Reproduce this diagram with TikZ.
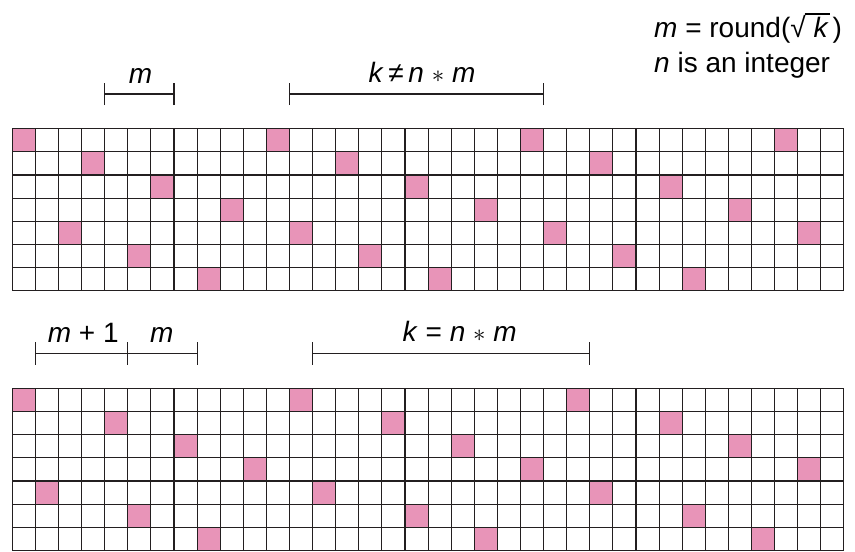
\documentclass[tikz,border=0pt]{standalone}
\usepackage{fontspec}
\setmainfont{Liberation Sans}
\definecolor{pinkc}{RGB}{232,148,184}
\definecolor{linec}{RGB}{35,31,32}
\newcommand{\myroot}[1]{√\kern-1.2pt\vbox{\hrule height 1.1pt\kern 2.5pt\hbox{\kern9pt#1\kern1pt}}}
\begin{document}
\begin{tikzpicture}[x=1pt,y=-1pt,
  gridline/.style={draw=linec,line width=1.1pt},
  pinkcell/.style={fill=pinkc},
  bracket/.style={draw=linec,line width=1.1pt},
  lbl/.style={inner sep=0pt,font=\fontsize{28}{32}\selectfont}]
\useasboundingbox (0,0) rectangle (855,552);
\def\s{23.1}
% ---------- top grid ----------
\def\xo{12.3}\def\yt{128.8}\def\yb{388.6}
\foreach \c/\r in {0/0,11/0,22/0,33/0, 3/1,14/1,25/1, 6/2,17/2,28/2, 9/3,20/3,31/3,
                   2/4,12/4,23/4,34/4, 5/5,15/5,26/5, 8/6,18/6,29/6}
  \fill[pinkcell] ({\xo+\c*\s},{\yt+\r*\s}) rectangle ++(\s,\s);
\foreach \i in {0,...,36}
  \draw[gridline] ({\xo+\i*\s},\yt) -- ++(0,{7*\s});
\foreach \j in {0,...,7}
  \draw[gridline] (\xo,{\yt+\j*\s}) -- ++({36*\s},0);
% ---------- bottom grid ----------
\foreach \c/\r in {0/0,12/0,24/0, 4/1,16/1,28/1, 7/2,19/2,31/2, 10/3,22/3,34/3,
                   1/4,13/4,25/4, 5/5,17/5,29/5, 8/6,20/6,32/6}
  \fill[pinkcell] ({\xo+\c*\s},{\yb+\r*\s}) rectangle ++(\s,\s);
\foreach \i in {0,...,36}
  \draw[gridline] ({\xo+\i*\s},\yb) -- ++(0,{7*\s});
\foreach \j in {0,...,7}
  \draw[gridline] (\xo,{\yb+\j*\s}) -- ++({36*\s},0);
% ---------- top brackets ----------
\coordinate (tm1) at ({\xo+4*\s},94);
\coordinate (tm2) at ({\xo+7*\s},94);
\coordinate (tk1) at ({\xo+12*\s},94);
\coordinate (tk2) at ({\xo+23*\s},94);
\draw[bracket] (tm1) -- (tm2);
\draw[bracket] (tk1) -- (tk2);
\foreach \p in {tm1,tm2,tk1,tk2}
  \draw[bracket] ([yshift=-11pt]\p) -- ([yshift=11pt]\p);
% ---------- bottom brackets ----------
\coordinate (bm1) at ({\xo+1*\s},353.3);
\coordinate (bm2) at ({\xo+5*\s},353.3);
\coordinate (bm3) at ({\xo+8*\s},353.3);
\coordinate (bk1) at ({\xo+13*\s},353.3);
\coordinate (bk2) at ({\xo+25*\s},353.3);
\draw[bracket] (bm1) -- (bm3);
\draw[bracket] (bk1) -- (bk2);
\foreach \p in {bm1,bm2,bm3,bk1,bk2}
  \draw[bracket] ([yshift=-11.5pt]\p) -- ([yshift=11.5pt]\p);
% ---------- labels ----------
\node[lbl,anchor=base] (lm) at (140.5,83) {\textit{m}};
\node[lbl,anchor=base] (lk) at (422,82.7) {\textit{k}\,≠\,\textit{n} $\ast$ \textit{m}};
\node[lbl,anchor=base] (lm1) at (83.3,342.3) {\textit{m} + 1};
\node[lbl,anchor=base] (lm2) at (161.7,342) {\textit{m}};
\node[lbl,anchor=base] (lk2) at (459.7,341) {\textit{k} = \textit{n} $\ast$ \textit{m}};
\node[lbl,anchor=base west] (f1) at (654,37.3) {\textit{m} = round(\myroot{\textit{k}}\kern3pt)};
\node[lbl,anchor=base west] (f2) at (654,72.7) {\textit{n} is an integer};
\end{tikzpicture}
\end{document}
